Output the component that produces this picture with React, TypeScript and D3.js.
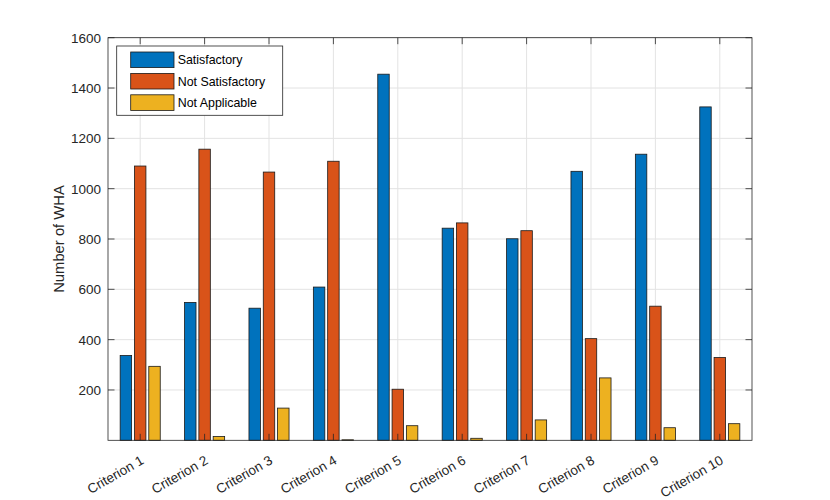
import { useEffect, useRef } from 'react';
import * as d3 from 'd3';

const width = 830;
const height = 500;
const [mt, mr, mb, ml] = [37.7, 78, 59.7, 108];

const categories = [
    'Criterion 1',
    'Criterion 2',
    'Criterion 3',
    'Criterion 4',
    'Criterion 5',
    'Criterion 6',
    'Criterion 7',
    'Criterion 8',
    'Criterion 9',
    'Criterion 10'
];
const seriesNames = ['Satisfactory', 'Not Satisfactory', 'Not Applicable'];
const satisfactory = [337, 548, 525, 609, 1455, 843, 801, 1069, 1137, 1325];
const notSatisfactory = [1090, 1157, 1066, 1109, 203, 864, 833, 404, 533, 329];
const notApplicable = [294, 15, 128, 2, 58, 8, 81, 248, 50, 66];
const yTicks = [200, 400, 600, 800, 1000, 1200, 1400, 1600];

const colors = ['#0072BD', '#D95319', '#EDB120'];
const font = '"Liberation Sans", Arial, Helvetica, sans-serif';
const axisColor = '#262626';

export default function App() {
    const ref = useRef<SVGSVGElement>(null);

    useEffect(() => {
        document.body.style.margin = '0';
        const svg = d3.select(ref.current);
        svg.selectAll('*').remove();

        const series = [satisfactory, notSatisfactory, notApplicable];
        const x0 = ml;
        const x1 = width - mr;
        const y0 = height - mb;
        const y1 = mt;

        // category centres at 1..10, limits 0.5..10.5 like MATLAB
        const x = d3.scaleLinear().domain([0.5, categories.length + 0.5]).range([x0, x1]);
        const y = d3.scaleLinear().domain([0, 1600]).range([y0, y1]);

        // grouped bar geometry (3 series)
        const groupWidth = Math.min(0.8, 3 / (3 + 1.5));
        const step = groupWidth / 3;
        const barW = step * 0.8;

        // background
        svg.append('rect').attr('x', x0).attr('y', y1).attr('width', x1 - x0).attr('height', y0 - y1).attr('fill', '#fff');

        // grid
        const grid = svg.append('g').attr('stroke', '#e3e3e3').attr('stroke-width', 1);
        yTicks.forEach((t) => {
            grid.append('line').attr('x1', x0).attr('x2', x1).attr('y1', y(t)).attr('y2', y(t));
        });
        categories.forEach((_, i) => {
            grid.append('line').attr('x1', x(i + 1)).attr('x2', x(i + 1)).attr('y1', y0).attr('y2', y1);
        });

        // bars
        series.forEach((vals, s) => {
            svg.append('g')
                .selectAll('rect')
                .data(vals)
                .join('rect')
                .attr('x', (_, i) => x(i + 1 + (s - 1) * step - barW / 2))
                .attr('width', x(barW) - x(0))
                .attr('y', (d) => y(d))
                .attr('height', (d) => y(0) - y(d))
                .attr('fill', colors[s])
                .attr('stroke', '#1a1a1a')
                .attr('stroke-width', 0.8);
        });

        // axes box + ticks
        const ax = svg.append('g').attr('stroke', axisColor).attr('stroke-width', 0.8).attr('fill', 'none');
        ax.append('rect').attr('x', x0).attr('y', y1).attr('width', x1 - x0).attr('height', y0 - y1);
        const tl = 6.5;
        yTicks.forEach((t) => {
            ax.append('line').attr('x1', x0).attr('x2', x0 + tl).attr('y1', y(t)).attr('y2', y(t));
            ax.append('line').attr('x1', x1).attr('x2', x1 - tl).attr('y1', y(t)).attr('y2', y(t));
        });
        categories.forEach((_, i) => {
            ax.append('line').attr('x1', x(i + 1)).attr('x2', x(i + 1)).attr('y1', y0).attr('y2', y0 - tl);
            ax.append('line').attr('x1', x(i + 1)).attr('x2', x(i + 1)).attr('y1', y1).attr('y2', y1 + tl);
        });

        // tick labels
        svg.append('g')
            .selectAll('text')
            .data(yTicks)
            .join('text')
            .attr('x', x0 - 7)
            .attr('y', (d) => y(d))
            .attr('dy', '0.36em')
            .attr('text-anchor', 'end')
            .attr('font-family', font)
            .attr('font-size', 13.5)
            .attr('fill', axisColor)
            .text((d) => d);

        svg.append('g')
            .selectAll('text')
            .data(categories)
            .join('text')
            .attr('transform', (_, i) => `translate(${x(i + 1) + 2},${y0 + 18.5}) rotate(-30)`)
            .attr('dy', '0.36em')
            .attr('text-anchor', 'end')
            .attr('font-family', font)
            .attr('font-size', 13.5)
            .attr('fill', axisColor)
            .text((d) => d);

        // y label
        svg.append('text')
            .attr('transform', `translate(64,${(y0 + y1) / 2}) rotate(-90)`)
            .attr('text-anchor', 'middle')
            .attr('font-family', font)
            .attr('font-size', 14.8)
            .attr('fill', axisColor)
            .text('Number of WHA');

        // legend
        const lg = svg.append('g');
        lg.append('rect')
            .attr('x', 116.7)
            .attr('y', 46)
            .attr('width', 166)
            .attr('height', 69.3)
            .attr('fill', '#fff')
            .attr('stroke', '#262626')
            .attr('stroke-width', 0.8);
        seriesNames.forEach((name, s) => {
            const cy = 59.8 + s * 21.4;
            lg.append('rect')
                .attr('x', 130.7)
                .attr('y', cy - 7.8)
                .attr('width', 43.3)
                .attr('height', 15.6)
                .attr('fill', colors[s])
                .attr('stroke', '#1a1a1a')
                .attr('stroke-width', 0.8);
            lg.append('text')
                .attr('x', 177.7)
                .attr('y', cy)
                .attr('dy', '0.36em')
                .attr('font-family', font)
                .attr('font-size', 12.4)
                .attr('fill', '#000')
                .text(name);
        });
    }, []);

    return (
        <div style={{ position: 'absolute', left: 0, top: 0, background: '#fff' }}>
            <svg ref={ref} width={width} height={height} />
        </div>
    );
}
